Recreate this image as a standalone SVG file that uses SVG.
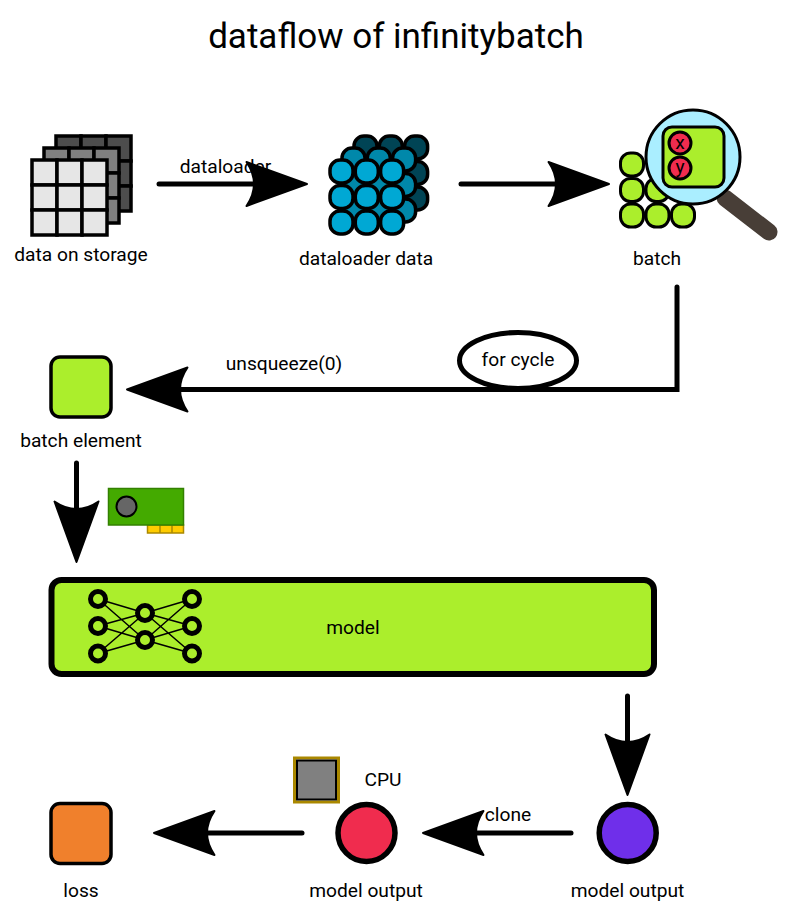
<svg xmlns="http://www.w3.org/2000/svg" width="792" height="922" viewBox="0 0 792 922">
<style>
text{font-family:Roboto,"Liberation Sans",sans-serif;fill:#000;text-anchor:middle;font-size:19.2px}
.t{font-size:35px}
.conn{fill:none;stroke:#000;stroke-width:5;stroke-linecap:round;stroke-linejoin:miter}
.cell{stroke:#000;stroke-width:3.5}
.a{fill:#e6e6e6}.b{fill:#808080}.c{fill:#4d4d4d}
.d{stroke:#000;stroke-width:3.5}
.g{fill:#abee2c;stroke:#000;stroke-width:3}
.r{fill:#f02c4e;stroke:#000;stroke-width:3}
.n{fill:#abee2c;stroke:#000;stroke-width:5}
.e{stroke:#000;stroke-width:1.5}
</style>
<defs>
<marker id="arr" markerUnits="userSpaceOnUse" markerWidth="70" markerHeight="56" viewBox="-4 -28 70 56" refX="12" refY="0" orient="auto" overflow="visible">
<path d="M60.500 0L0-22Q15 0 0 22Z" fill="#000" stroke="#000" stroke-width="2" stroke-linejoin="round"/>
</marker>
<g id="grid"><rect class="cell" x="0" y="0" width="25" height="25"/><rect class="cell" x="25" y="0" width="25" height="25"/><rect class="cell" x="50" y="0" width="25" height="25"/><rect class="cell" x="0" y="25" width="25" height="25"/><rect class="cell" x="25" y="25" width="25" height="25"/><rect class="cell" x="50" y="25" width="25" height="25"/><rect class="cell" x="0" y="50" width="25" height="25"/><rect class="cell" x="25" y="50" width="25" height="25"/><rect class="cell" x="50" y="50" width="25" height="25"/></g>
<g id="dots"><rect class="d" x="0" y="0" width="23" height="23" rx="10"/><rect class="d" x="25.300" y="0" width="23" height="23" rx="10"/><rect class="d" x="50.600" y="0" width="23" height="23" rx="10"/><rect class="d" x="0" y="25.500" width="23" height="23" rx="10"/><rect class="d" x="25.300" y="25.500" width="23" height="23" rx="10"/><rect class="d" x="50.600" y="25.500" width="23" height="23" rx="10"/><rect class="d" x="0" y="51" width="23" height="23" rx="10"/><rect class="d" x="25.300" y="51" width="23" height="23" rx="10"/><rect class="d" x="50.600" y="51" width="23" height="23" rx="10"/></g>
</defs>
<text id="title" class="t" x="396" y="48">dataflow of infinitybatch</text>
<g id="data-on-storage">
<use href="#grid" x="56" y="136" class="c"/>
<use href="#grid" x="44" y="148" class="b"/>
<use href="#grid" x="32" y="160" class="a"/>
<text x="81" y="261">data on storage</text>
</g>
<text id="dataloader-label" x="225.500" y="173">dataloader</text>
<g id="connectors">
<path class="conn" d="M159 184H258.500" marker-end="url(#arr)"/>
<path class="conn" d="M461 184H560.500" marker-end="url(#arr)"/>
<path class="conn" d="M677 287V389.500H175.500" marker-end="url(#arr)"/>
<path class="conn" d="M76.500 463V513.500" marker-end="url(#arr)"/>
<path class="conn" d="M627.500 696V746.500" marker-end="url(#arr)"/>
<path class="conn" d="M571 833H471.500" marker-end="url(#arr)"/>
<path class="conn" d="M302 833H202.500" marker-end="url(#arr)"/>
</g>
<g id="dataloader-data">
<use href="#dots" x="354" y="136" fill="#004455"/>
<use href="#dots" x="342" y="148" fill="#0088aa"/>
<use href="#dots" x="330" y="160" fill="#00a8d4"/>
<text x="366" y="265">dataloader data</text>
</g>
<g id="batch">
<rect class="g" x="620.500" y="153" width="23" height="23" rx="10"/>
<rect class="g" x="620.500" y="178.500" width="23" height="23" rx="10"/>
<rect class="g" x="646" y="178.500" width="23" height="23" rx="10"/>
<rect class="g" x="620.500" y="204" width="23" height="23" rx="10"/>
<rect class="g" x="646" y="204" width="23" height="23" rx="10"/>
<rect class="g" x="671.500" y="204" width="23" height="23" rx="10"/>
<text x="657" y="265">batch</text>
</g>
<g id="magnifier">
<path d="M725 198L769 232" fill="none" stroke="#483e37" stroke-width="17" stroke-linecap="round"/>
<circle cx="693" cy="157" r="47" fill="#aaeeff" stroke="#000" stroke-width="3"/>
<rect x="663" y="127" width="61" height="60" rx="9" fill="#abee2c" stroke="#000" stroke-width="3"/>
<circle class="r" cx="680" cy="143" r="11"/>
<circle class="r" cx="680" cy="168" r="11"/>
<text x="680" y="149">x</text>
<text x="680" y="173">y</text>
</g>
<g id="for-cycle">
<ellipse cx="518" cy="360.500" rx="58.500" ry="28" fill="#fff" stroke="#000" stroke-width="5"/>
<text x="518" y="366">for cycle</text>
</g>
<text id="unsqueeze-label" x="284" y="370">unsqueeze(0)</text>
<g id="batch-element">
<rect x="51" y="357" width="60" height="60" rx="9" fill="#abee2c" stroke="#000" stroke-width="3.500"/>
<text x="81" y="447">batch element</text>
</g>
<g id="gpu">
<rect x="147.500" y="525" width="36" height="8" fill="#ffcc00" stroke="#aa8800" stroke-width="1.500"/>
<path d="M160 525V533M172 525V533" stroke="#aa8800" stroke-width="1.500"/>
<rect x="108.500" y="488.500" width="75" height="36.500" fill="#44aa00" stroke="#338000" stroke-width="1.500"/>
<circle cx="126.500" cy="506.500" r="10" fill="#666" stroke="#000" stroke-width="2"/>
</g>
<g id="model">
<rect x="51.500" y="580" width="602.500" height="94" rx="10" fill="#abee2c" stroke="#000" stroke-width="6"/>
<path class="e" d="M98 599L145 613M98 599L145 640M98 626L145 613M98 626L145 640M98 653.500L145 613M98 653.500L145 640M192 599L145 613M192 599L145 640M192 626L145 613M192 626L145 640M192 653.500L145 613M192 653.500L145 640"/>
<circle class="n" cx="98" cy="599" r="7.500"/><circle class="n" cx="98" cy="626" r="7.500"/><circle class="n" cx="98" cy="653.500" r="7.500"/>
<circle class="n" cx="145" cy="613" r="7.500"/><circle class="n" cx="145" cy="640" r="7.500"/>
<circle class="n" cx="192" cy="599" r="7.500"/><circle class="n" cx="192" cy="626" r="7.500"/><circle class="n" cx="192" cy="653.500" r="7.500"/>
<text x="353" y="634">model</text>
</g>
<g id="cpu">
<rect x="294.500" y="758" width="44" height="44" fill="none" stroke="#aa8800" stroke-width="3"/>
<rect x="297" y="760.500" width="39" height="39" fill="#808080" stroke="#000" stroke-width="2"/>
<text x="383" y="786">CPU</text>
</g>
<g id="model-output-cpu">
<circle cx="366.500" cy="833" r="28.500" fill="#f02c4e" stroke="#000" stroke-width="5.500"/>
<text x="366" y="897">model output</text>
</g>
<g id="model-output">
<circle cx="627.700" cy="833" r="28.500" fill="#6f2fea" stroke="#000" stroke-width="5.500"/>
<text x="627.500" y="897">model output</text>
</g>
<text id="clone-label" x="508" y="821">clone</text>
<g id="loss">
<rect x="51" y="803.500" width="60" height="60" rx="9" fill="#f0802c" stroke="#000" stroke-width="3.500"/>
<text x="81" y="897">loss</text>
</g>
</svg>
